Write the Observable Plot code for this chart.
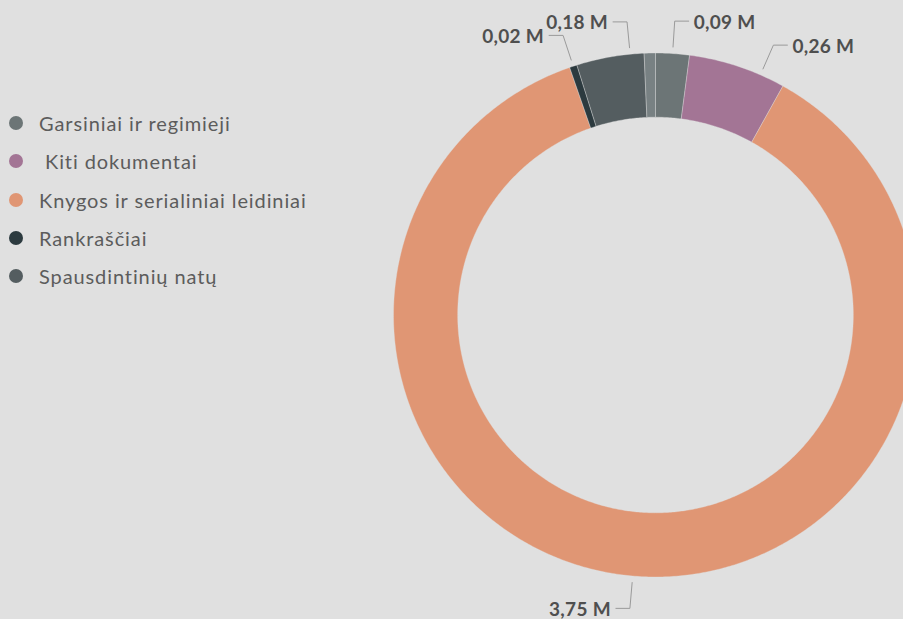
<!DOCTYPE html>
<html>
<head>
<meta charset="utf-8">
<script src="https://cdn.jsdelivr.net/npm/d3@7"></script>
<script src="https://cdn.jsdelivr.net/npm/@observablehq/plot@0.6"></script>
<style>
  html, body { margin: 0; padding: 0; background: #e0e0e0; width: 903px; height: 619px; overflow: hidden; }
  #chart { position: absolute; left: 0; top: 0; }
  #legend { position: absolute; left: 9px; top: 104px; font-family: Lato, sans-serif; font-size: 20px; letter-spacing: 0.9px; color: #5c5c5c; }
  .item { height: 38.3px; display: flex; align-items: center; white-space: pre; }
  .dot { width: 14px; height: 14px; border-radius: 50%; margin-right: 16px; flex: none; }
</style>
</head>
<body>
<div id="chart"></div>
<div id="legend"></div>
<script>
// ---- data ----
const categories = ["Garsiniai ir regimieji", " Kiti dokumentai", "Knygos ir serialiniai leidiniai", "Rankraščiai", "Spausdintinių natų", "Kita"];
const values = [0.09, 0.26, 3.75, 0.02, 0.18, 0.03];
const colors = ["#6c7576", "#a37595", "#e09674", "#2c3a3f", "#545d60", "#788183"];
const inLegend = [true, true, true, true, true, false];

// ---- layout ----
const W = 903, H = 619;
const cx = 655, cy = 314.5, R = 262;
const inner = 0.755;
const rAnchor = 1.025, rElbow = 1.124, hook = 14 / R;
const gapRight = 24, gapLeft = 13.5;

const pie = d3.pie().sort(null).value(d => d)(values);

// slice polygons
const slicePts = [];
pie.forEach((p, i) => {
  const a0 = p.startAngle, a1 = p.endAngle;
  const n = Math.max(2, Math.ceil((a1 - a0) / (Math.PI / 360)));
  const pts = [];
  for (let k = 0; k <= n; k++) { const a = a0 + (a1 - a0) * k / n; pts.push([Math.sin(a), Math.cos(a)]); }
  for (let k = n; k >= 0; k--) { const a = a0 + (a1 - a0) * k / n; pts.push([inner * Math.sin(a), inner * Math.cos(a)]); }
  pts.push(pts[0]);
  pts.forEach(([x, y], j) => slicePts.push({cat: categories[i], x, y, j}));
});

// labels
const topY = cy - rElbow * R + 0.3;
const labels = pie.map((p, i) => {
  const a = (p.startAngle + p.endAngle) / 2;
  return {i, a, side: Math.sin(a) >= 0 ? 1 : -1, py: Math.max(topY, cy - rElbow * R * Math.cos(a)),
          text: values[i].toFixed(2).replace(".", ",") + " M"};
}).filter(d => inLegend[d.i]);
{
  const g = labels.filter(d => d.side > 0 && Math.cos(d.a) > 0).sort((a, b) => a.py - b.py);
  for (let k = 1; k < g.length; k++)
    if (g[k].py - g[k - 1].py < gapRight) g[k].py = g[k - 1].py + gapRight;
}
{
  const g = labels.filter(d => d.side < 0 && Math.cos(d.a) > 0).sort((a, b) => a.py - b.py);
  for (let k = g.length - 2; k >= 0; k--)
    if (g[k + 1].py - g[k].py < gapLeft) g[k].py = Math.max(topY, g[k + 1].py - gapLeft);
}
const leaderPts = [];
labels.forEach(d => {
  let th = d.a;
  if (Math.cos(d.a) > 0) {
    const c = Math.max(-1, Math.min(1, (cy - d.py) / (rElbow * R)));
    th = Math.acos(c) * d.side;
  }
  const ax = rAnchor * Math.sin(th), ay = rAnchor * Math.cos(th);
  const ex = rElbow * Math.sin(th), ey = rElbow * Math.cos(th);
  const hx = ex + d.side * hook;
  d.lx = hx; d.ly = ey;
  leaderPts.push({k: d.i, x: ax, y: ay}, {k: d.i, x: ex, y: ey}, {k: d.i, x: hx, y: ey});
});

const textStyle = {x: "lx", y: "ly", text: "text", fontFamily: "Lato, sans-serif", fontWeight: "bold",
  fontSize: 19, fill: "#4f4f4f", dy: 1.5};

const chart = Plot.plot({
  width: W, height: H, margin: 0,
  style: {background: "transparent", overflow: "visible"},
  x: {domain: [-1, 1], range: [cx - R, cx + R], axis: null},
  y: {domain: [-1, 1], range: [cy + R, cy - R], axis: null},
  color: {domain: categories, range: colors},
  marks: [
    Plot.line(slicePts, {x: "x", y: "y", z: "cat", fill: "cat", stroke: "#e0e0e0", strokeWidth: 0.6, strokeOpacity: 0.6, curve: "linear"}),
    Plot.line(leaderPts, {x: "x", y: "y", z: "k", stroke: "#9a9a9a", strokeWidth: 1}),
    Plot.text(labels.filter(d => d.side > 0), {...textStyle, textAnchor: "start", dx: 5}),
    Plot.text(labels.filter(d => d.side < 0), {...textStyle, textAnchor: "end", dx: -5}),
  ]
});
chart.querySelectorAll("g[aria-label='text']").forEach(g => g.setAttribute("letter-spacing", "0.3"));
document.getElementById("chart").appendChild(chart);

// legend
const leg = document.getElementById("legend");
categories.forEach((c, i) => {
  if (!inLegend[i]) return;
  const row = document.createElement("div");
  row.className = "item";
  const dot = document.createElement("span");
  dot.className = "dot"; dot.style.background = colors[i];
  const tx = document.createElement("span"); tx.textContent = c;
  row.appendChild(dot); row.appendChild(tx);
  leg.appendChild(row);
});
</script>
</body>
</html>
